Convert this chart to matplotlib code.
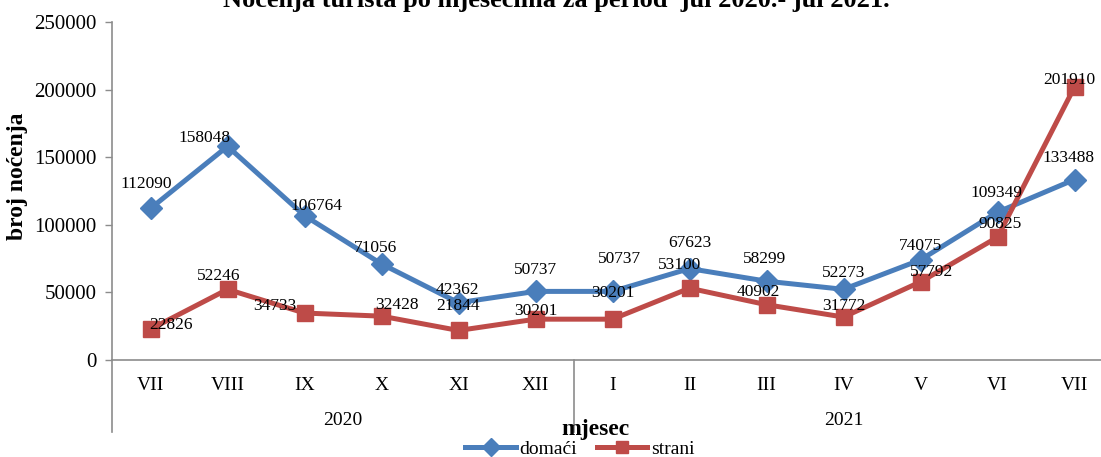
import matplotlib
matplotlib.use("Agg")
import matplotlib.pyplot as plt
from matplotlib.lines import Line2D

# data
mjeseci = ["VII", "VIII", "IX", "X", "XI", "XII", "I", "II", "III", "IV", "V", "VI", "VII"]
godine = ["2020", "2021"]
godina_raspon = [(0, 5), (6, 12)]
domaci = [112090, 158048, 106764, 71056, 42362, 50737, 50737, 67623, 58299, 52273, 74075, 109349, 133488]
strani = [22826, 52246, 34733, 32428, 21844, 30201, 30201, 53100, 40902, 31772, 57792, 90825, 201910]

# label offsets in pixels (dx, dy)
off_domaci = [(-4, 24), (-23, 8), (12, 10), (-6, 16), (-1, 13), (0, 21), (7, 32),
              (0, 26), (-2, 22), (0, 16), (0, 14), (-1, 19), (-6, 22)]
off_strani = [(20, 4), (-9, 13), (-30, 7), (15, 11), (0, 24), (0, 8), (0, 26),
              (-10, 23), (-8, 13), (0, 11), (11, 10), (3, 13), (-5, 7)]

plt.rcParams['font.family'] = ['Liberation Serif', 'DejaVu Serif']

plava = '#4A7EBB'
crvena = '#BE4B48'
siva = '#8C8C8C'

fig = plt.figure(figsize=(11.01, 4.57), dpi=100)
ax = fig.add_axes([112/1101, 97/457, 1001/1101, 338/457])

x = list(range(len(mjeseci)))
ax.plot(x, domaci, color=plava, lw=3.6, marker='D', ms=11, label='domaći', zorder=3)
ax.plot(x, strani, color=crvena, lw=3.6, marker='s', ms=11, label='strani', zorder=3)

for i in x:
    ax.annotate(str(domaci[i]), (i, domaci[i]), xytext=off_domaci[i], textcoords='offset pixels',
                ha='center', va='center', fontsize=12.5, zorder=4)
    ax.annotate(str(strani[i]), (i, strani[i]), xytext=off_strani[i], textcoords='offset pixels',
                ha='center', va='center', fontsize=12.5, zorder=4)

ax.set_xlim(-0.5, len(mjeseci) - 0.5)
ax.set_ylim(0, 250000)
ax.set_yticks(range(0, 250001, 50000))
ax.tick_params(axis='y', labelsize=15, length=5, color=siva, width=1, pad=6)
ax.set_xticks(x)
ax.set_xticklabels(mjeseci, fontsize=14)
ax.tick_params(axis='x', length=0, pad=12)

for s in ['top', 'right']:
    ax.spines[s].set_visible(False)
for s in ['left', 'bottom']:
    ax.spines[s].set_color(siva)
    ax.spines[s].set_linewidth(1.2)

# multi-level category separators
tr = ax.get_xaxis_transform()
for xs in [-0.5, 5.5, 12.5]:
    ax.plot([xs, xs], [0, -0.213], transform=tr, color=siva, lw=1.2, clip_on=False)
for g, (a, b) in zip(godine, godina_raspon):
    ax.text((a + b) / 2, -0.178, g, transform=tr, ha='center', va='center', fontsize=14)

ax.set_ylabel('broj noćenja', fontsize=17, fontweight='bold')
ax.yaxis.set_label_coords(-0.084, 0.544)
fig.text(595/1101, 1 - 430/457, 'mjesec', ha='center', va='center', fontsize=17, fontweight='bold')
fig.text(556/1101, 1 - 1/457, 'Noćenja turista po mjesecima za period  jul 2020.- jul 2021.',
         ha='center', va='center', fontsize=19, fontweight='bold')

handles = [Line2D([], [], color=plava, lw=3.6, marker='D', ms=9),
           Line2D([], [], color=crvena, lw=3.6, marker='s', ms=9)]
fig.legend(handles, ['domaći', 'strani'], loc='center', bbox_to_anchor=(580/1101, 1 - 449/457),
           ncol=2, frameon=False, fontsize=14, handlelength=2.6, handletextpad=0.2,
           columnspacing=1.0, borderpad=0)

fig.savefig('out.png', dpi=100)
